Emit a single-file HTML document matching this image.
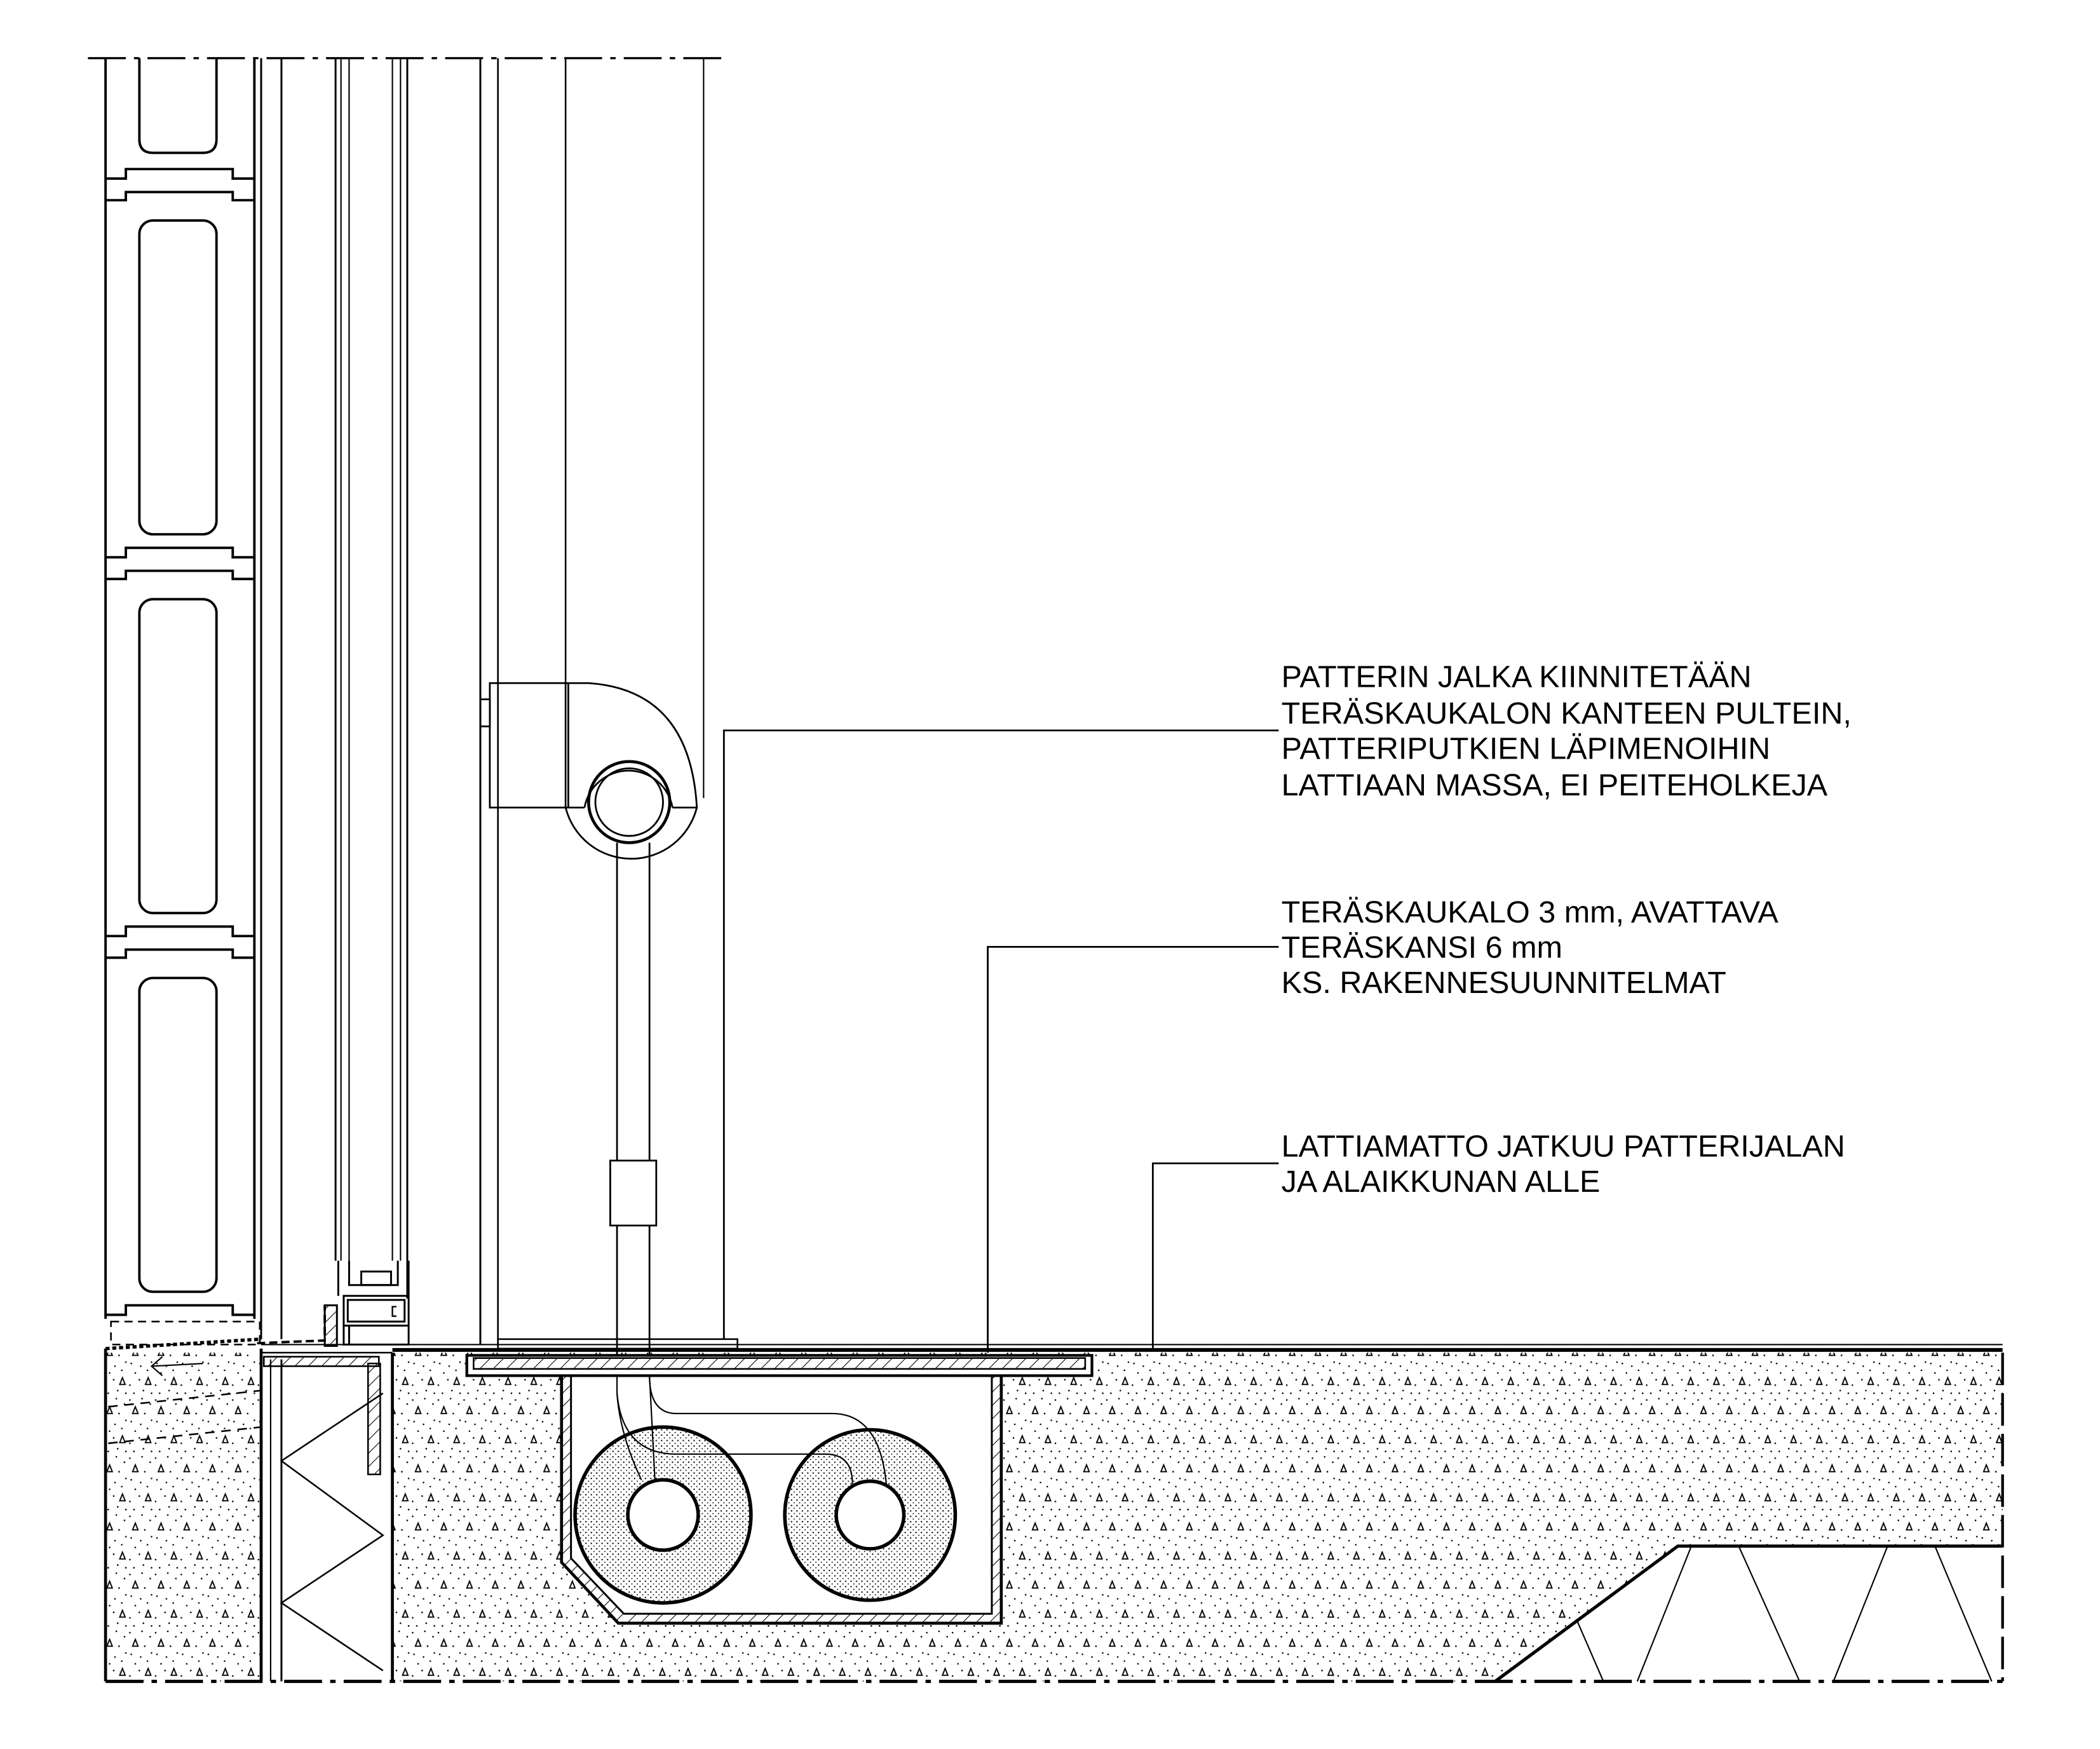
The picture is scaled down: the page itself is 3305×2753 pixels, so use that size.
<!DOCTYPE html>
<html><head><meta charset="utf-8"><style>
html,body{margin:0;padding:0;background:#fff;}
svg{display:block;}
text{font-family:"Liberation Sans",Arial,sans-serif;font-size:22.8px;fill:#000;}
</style></head><body>
<svg width="3305" height="2753" viewBox="0 0 1552 1293" preserveAspectRatio="none" xmlns="http://www.w3.org/2000/svg">
<defs>
<pattern id="conc" width="19" height="43" patternUnits="userSpaceOnUse">
<path d="M5,8 L3,13 L7,13 Z M14.5,29.5 L12.5,34.5 L16.5,34.5 Z" fill="none" stroke="#000" stroke-width="0.9"/>
<g fill="#000">
<circle cx="1" cy="3" r="0.6"/><circle cx="10" cy="2" r="0.6"/><circle cx="16" cy="6" r="0.6"/>
<circle cx="12" cy="13" r="0.6"/><circle cx="2" cy="19" r="0.6"/><circle cx="9" cy="21" r="0.6"/>
<circle cx="17" cy="18" r="0.6"/><circle cx="5" cy="26" r="0.6"/><circle cx="8" cy="31" r="0.6"/>
<circle cx="1" cy="35" r="0.6"/><circle cx="11" cy="39" r="0.6"/><circle cx="17" cy="41" r="0.6"/>
<circle cx="4" cy="41" r="0.6"/><circle cx="14" cy="24" r="0.6"/>
</g></pattern>
<pattern id="ins" width="4" height="4" patternUnits="userSpaceOnUse">
<circle cx="1" cy="1" r="0.55" fill="#000"/><circle cx="3" cy="3" r="0.45" fill="#000"/>
</pattern>
<pattern id="hat" width="7" height="7" patternUnits="userSpaceOnUse" patternTransform="rotate(45)">
<line x1="0" y1="0" x2="0" y2="7" stroke="#000" stroke-width="1"/>
</pattern>
</defs>
<g fill="none" stroke="#000">
<line x1="65" y1="43" x2="535" y2="43" stroke-width="1.6" stroke-dasharray="28 6 4 6"/>
<line x1="78" y1="1243" x2="1480" y2="1243" stroke-width="2.4" stroke-dasharray="28 6 4 6"/>

<rect x="78" y="1000" width="115" height="243" fill="url(#conc)" stroke="none"/>
<path d="M290,1000 L1480,1000 L1480,1143 L1240,1143 L1105,1243 L290,1243 Z" fill="url(#conc)" stroke="none"/>
<line x1="78" y1="997" x2="78" y2="1243" stroke-width="2.2"/>
<line x1="193" y1="997" x2="193" y2="1243" stroke-width="2.2"/>
<line x1="290" y1="1000" x2="290" y2="1243" stroke-width="2.2"/>
<line x1="1480" y1="1000" x2="1480" y2="1243" stroke-width="2" stroke-dasharray="24 6"/>
<path d="M1105,1243 L1240,1143 L1480,1143" stroke-width="2.4"/>
<path d="M1165,1197 L1185,1243 M1250,1143 L1210,1243 M1285,1143 L1330,1243 M1395,1143 L1355,1243 M1430,1143 L1472,1243" stroke-width="1"/>
<path d="M80,1040 L193,1028 M80,1067 L193,1055" stroke-width="1.2" stroke-dasharray="7 5"/>
<path d="M120,1003 L112,1010 L120,1017 M112,1010 L150,1008" stroke-width="1"/>

<line x1="200" y1="1005" x2="200" y2="1243" stroke-width="1"/>
<line x1="208" y1="1005" x2="208" y2="1243" stroke-width="1.4"/>
<path d="M283,1030 L208,1080 L283,1135 L208,1185 L283,1235" stroke-width="1.2"/>
<path d="M193,1000 L290,1000" stroke-width="1.2"/>
<rect x="195" y="1003" width="85" height="7" fill="url(#hat)" stroke-width="1.2"/>
<rect x="272" y="1008" width="9" height="82" fill="url(#hat)" stroke-width="1.2"/>

<line x1="290" y1="998" x2="1480" y2="998" stroke-width="2.8"/>
<line x1="193" y1="994" x2="1480" y2="994" stroke-width="1"/>
<path d="M78,997 L193,990" stroke-width="2.5" stroke-dasharray="3 2"/>
<rect x="82" y="977" width="110" height="17" stroke-width="1.2" stroke-dasharray="6 4"/>
<path d="M190,993 L240,991 L240,965" stroke-width="1.8" stroke-dasharray="6 3"/>

<line x1="78" y1="43" x2="78" y2="975" stroke-width="1.8"/>
<line x1="188" y1="43" x2="188" y2="975" stroke-width="1.8"/>
<g stroke-width="1.8">
<path d="M78,132 L93,132 L93,125 L172,125 L172,132 L188,132"/>
<path d="M78,148 L93,148 L93,142 L172,142 L172,148 L188,148"/>
<path d="M78,412 L93,412 L93,405 L172,405 L172,412 L188,412"/>
<path d="M78,428 L93,428 L93,422 L172,422 L172,428 L188,428"/>
<path d="M78,692 L93,692 L93,685 L172,685 L172,692 L188,692"/>
<path d="M78,708 L93,708 L93,702 L172,702 L172,708 L188,708"/>
<path d="M78,972 L93,972 L93,965 L172,965 L172,972 L188,972"/>
<path d="M103,43 L103,103 Q103,113 113,113 L150,113 Q160,113 160,103 L160,43"/>
<rect x="103" y="163" width="57" height="232" rx="10"/>
<rect x="103" y="443" width="57" height="232" rx="10"/>
<rect x="103" y="723" width="57" height="232" rx="10"/>
</g>

<line x1="193" y1="43" x2="193" y2="990" stroke-width="1.4"/>
<line x1="208" y1="43" x2="208" y2="990" stroke-width="1.4"/>
<line x1="248" y1="43" x2="248" y2="932" stroke-width="1.4"/>
<line x1="252" y1="43" x2="252" y2="932" stroke-width="1"/>
<line x1="258" y1="43" x2="258" y2="932" stroke-width="1"/>
<line x1="290" y1="43" x2="290" y2="932" stroke-width="1"/>
<line x1="296" y1="43" x2="296" y2="932" stroke-width="1"/>
<line x1="301" y1="43" x2="301" y2="960" stroke-width="1.4"/>
<line x1="355" y1="43" x2="355" y2="994" stroke-width="1.4"/>
<line x1="368" y1="43" x2="368" y2="994" stroke-width="1.2"/>
<line x1="418" y1="43" x2="418" y2="505" stroke-width="1.2"/>
<line x1="520" y1="43" x2="520" y2="590" stroke-width="1"/>

<g stroke-width="1.4">
<path d="M250,932 L250,958 M302,932 L302,958 M258,932 L258,950 L294,950 L294,932"/>
<rect x="267" y="940" width="22" height="10"/>
<rect x="254" y="958" width="48" height="22"/>
<rect x="257" y="961" width="42" height="16"/>
<rect x="254" y="980" width="48" height="14"/>
<line x1="258" y1="980" x2="258" y2="994"/>
<path d="M293,966 L290,966 L290,973 L293,973" stroke-width="1.1"/>
<rect x="240" y="965" width="9" height="30" fill="url(#hat)"/>
</g>

<rect x="368" y="990" width="177" height="7" stroke-width="1.2"/>

<g stroke-width="1.3">
<rect x="362" y="505" width="56" height="92"/>
<rect x="355" y="517" width="7" height="20"/>
<path d="M418,505 L435,505 Q510,510 515,597 L497,597"/>
<path d="M418,597 L432,597"/>
<path d="M432,597 A33,33 0 0 1 497,597"/>
<path d="M515,597 A50,50 0 0 1 418,597"/>
<line x1="420" y1="505" x2="420" y2="597"/>
<circle cx="465" cy="593" r="30" stroke-width="2.2"/>
<circle cx="465" cy="593" r="25"/>
</g>
<line x1="456" y1="623" x2="456" y2="1010" stroke-width="1.3"/>
<line x1="480" y1="623" x2="480" y2="1010" stroke-width="1.3"/>
<rect x="451" y="858" width="34" height="48" fill="#fff" stroke-width="1.3"/>

<path d="M535,990 L535,540 L945,540" stroke-width="1.3"/>
<path d="M730,1000 L730,700 L945,700" stroke-width="1.3"/>
<path d="M852,997 L852,860 L945,860" stroke-width="1.3"/>

<path d="M415,1012 L415,1155 L457,1200 L740,1200 L740,1012 Z" fill="#fff" stroke="none"/>
<path d="M415,1012 L415,1155 L457,1200 L740,1200 L740,1012" stroke-width="2.2"/>
<path d="M422,1012 L422,1152 L461,1193 L733,1193 L733,1012" stroke-width="1.4"/>
<path d="M415,1155 L457,1200 L740,1200 L740,1012 L733,1012 L733,1193 L461,1193 L422,1152 L422,1012 L415,1012 Z" fill="url(#hat)" stroke="none"/>
<rect x="345" y="1002" width="462" height="15" fill="#fff" stroke-width="2"/>
<rect x="350" y="1004" width="452" height="8" fill="url(#hat)" stroke-width="1.2"/>

<circle cx="490" cy="1120" r="65" fill="url(#ins)" stroke-width="2.6"/>
<circle cx="490" cy="1120" r="26" fill="#fff" stroke-width="2.6"/>
<circle cx="643" cy="1120" r="63" fill="url(#ins)" stroke-width="2.6"/>
<circle cx="643" cy="1120" r="25" fill="#fff" stroke-width="2.6"/>
<path d="M456,1017 L456,1030 Q458,1060 474,1094" stroke-width="1"/>
<path d="M480,1017 L484,1094" stroke-width="1"/>
<path d="M456,1030 Q460,1075 500,1075 L610,1075 Q630,1075 630,1097" stroke-width="1"/>
<path d="M480,1017 Q480,1045 500,1045 L615,1045 Q650,1045 655,1097" stroke-width="1"/>
</g>

<text x="947" y="508">PATTERIN JALKA KIINNITETÄÄN</text>
<text x="947" y="535">TERÄSKAUKALON KANTEEN PULTEIN,</text>
<text x="947" y="561">PATTERIPUTKIEN LÄPIMENOIHIN</text>
<text x="947" y="588">LATTIAAN MASSA, EI PEITEHOLKEJA</text>
<text x="947" y="682">TERÄSKAUKALO 3 mm, AVATTAVA</text>
<text x="947" y="708">TERÄSKANSI 6 mm</text>
<text x="947" y="734">KS. RAKENNESUUNNITELMAT</text>
<text x="947" y="855">LATTIAMATTO JATKUU PATTERIJALAN</text>
<text x="947" y="881">JA ALAIKKUNAN ALLE</text>
</svg>
</body></html>
